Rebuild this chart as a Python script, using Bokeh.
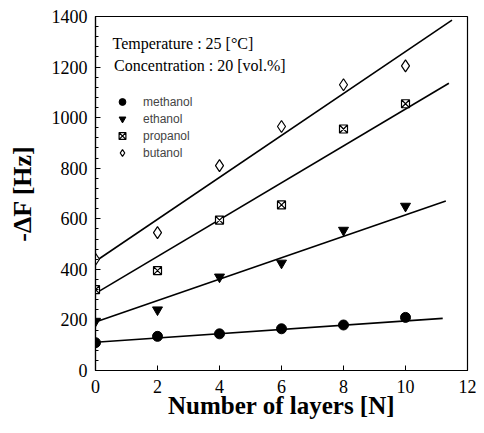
from bokeh.plotting import figure
from bokeh.models import Range1d, Legend, LegendItem, Label, FixedTicker
from bokeh.embed import file_html
from bokeh.resources import INLINE

layers = [0, 2, 4, 6, 8, 10]
methanol = [110, 135, 145, 165, 180, 210]
ethanol = [195, 240, 370, 425, 555, 650]
propanol = [320, 395, 595, 655, 955, 1055]
butanol = [440, 545, 810, 965, 1130, 1205]

# fitted line endpoints
fit_x = {"methanol": [0, 11.2], "ethanol": [0, 11.3], "propanol": [0, 11.4], "butanol": [0, 11.5]}
fit_y = {"methanol": [112, 206], "ethanol": [192, 670], "propanol": [305, 1136], "butanol": [432, 1386]}

x_ticks = [0, 2, 4, 6, 8, 10, 12]
y_ticks = [0, 200, 400, 600, 800, 1000, 1200, 1400]

p = figure(width=484, height=433, output_backend="svg", toolbar_location=None,
           x_range=Range1d(0, 12), y_range=Range1d(0, 1400),
           min_border_left=95, min_border_right=17, min_border_top=16, min_border_bottom=63)
p.background_fill_color = "white"
p.border_fill_color = "white"
p.outline_line_color = "black"
p.outline_line_width = 1.2
p.xgrid.visible = False
p.ygrid.visible = False

serif = "Liberation Serif"
for ax in (p.xaxis[0], p.yaxis[0]):
    ax.major_label_text_font = serif
    ax.major_label_text_font_size = "18px"
    ax.major_label_text_color = "black"
    ax.axis_label_text_font = serif
    ax.axis_label_text_font_style = "bold"
    ax.axis_label_text_color = "black"
    ax.major_tick_in = 5
    ax.major_tick_out = 0
    ax.minor_tick_in = 3
    ax.minor_tick_out = 0
    ax.axis_line_width = 1.2

p.xaxis.ticker = FixedTicker(ticks=x_ticks)
p.yaxis.ticker = FixedTicker(ticks=y_ticks, minor_ticks=list(range(0, 1401, 40)))
p.xaxis.minor_tick_line_color = None
p.xaxis.axis_label = "Number of layers [N]"
p.xaxis.axis_label_text_font_size = "25px"
p.xaxis.axis_label_standoff = -4
p.yaxis.axis_label = "-ΔF [Hz]"
p.yaxis.axis_label_text_font_size = "26px"
p.yaxis.axis_label_standoff = 12
p.xaxis.major_label_standoff = 9
p.yaxis.major_label_standoff = 8

for name in ["methanol", "ethanol", "propanol", "butanol"]:
    p.line(fit_x[name], fit_y[name], line_color="black", line_width=1.6)

r1 = p.scatter(layers, methanol, marker="circle", size=10, fill_color="black", line_color="black")
r2 = p.scatter(layers, ethanol, marker="inverted_triangle", size=10, fill_color="black", line_color="black")
r3 = p.scatter(layers, propanol, marker="square_x", size=8, fill_color="white", line_color="black", line_width=1.2)
r4 = p.scatter(layers, butanol, marker="diamond", size=12, fill_color="white", line_color="black", line_width=1.2)

legend = Legend(items=[LegendItem(label="methanol", renderers=[r1]),
                       LegendItem(label="ethanol", renderers=[r2]),
                       LegendItem(label="propanol", renderers=[r3]),
                       LegendItem(label="butanol", renderers=[r4])],
                location=(17, 209), border_line_color=None, background_fill_alpha=0,
                label_text_font="Liberation Sans", label_text_font_size="12px",
                label_height=17, glyph_height=17, glyph_width=20, spacing=0,
                label_standoff=11, padding=0, margin=0)
p.add_layout(legend, "center")

p.add_layout(Label(x=0.55, y=1293, text="Temperature : 25 [°C]", text_font=serif,
                   text_font_size="16px", text_baseline="middle", text_color="black"))
p.add_layout(Label(x=0.6, y=1205, text="Concentration : 20 [vol.%]", text_font=serif,
                   text_font_size="16px", text_baseline="middle", text_color="black"))

open("out.html", "w").write(file_html(p, INLINE))
